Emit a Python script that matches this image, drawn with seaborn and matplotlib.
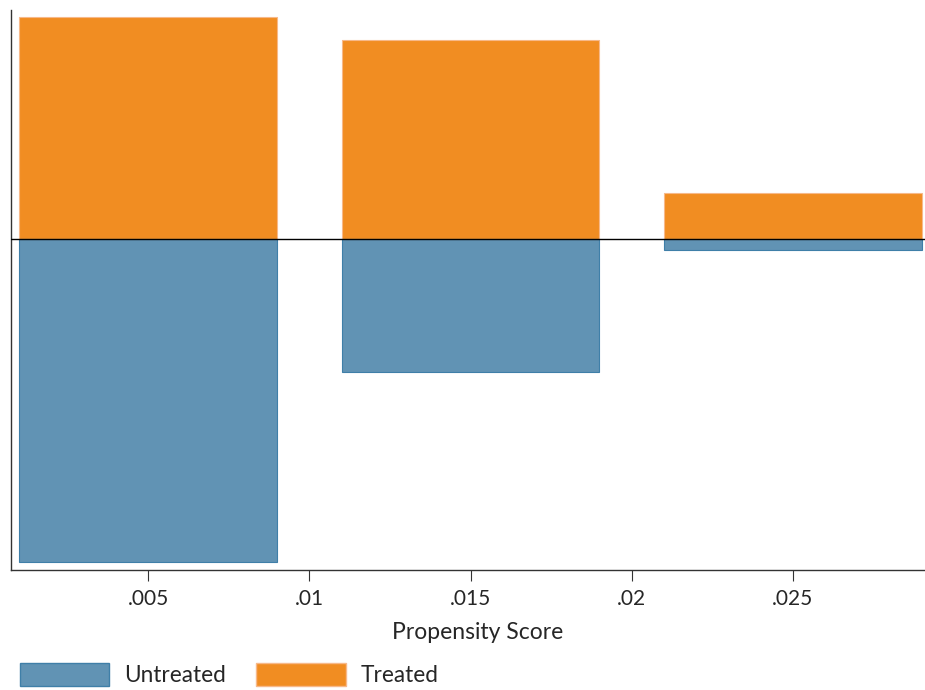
import matplotlib.pyplot as plt
import matplotlib.patches as mpatches
import seaborn as sns
import numpy as np
import pandas as pd

# bin midpoints of the propensity score and share of each group in the bin
bin_mid = [0.005, 0.015, 0.025]
treated = [0.475, 0.426, 0.099]
untreated = [0.692, 0.285, 0.024]
xticks = [0.005, 0.01, 0.015, 0.02, 0.025]
xtick_labels = ['.005', '.01', '.015', '.02', '.025']

orange = '#F18D22'
blue = '#6193B4'

sns.set_style('white')
plt.rcParams['font.family'] = ['Lato', 'DejaVu Sans']

df_t = pd.DataFrame({'score': bin_mid, 'share': treated})
df_u = pd.DataFrame({'score': bin_mid, 'share': [-v for v in untreated]})

fig = plt.figure(figsize=(9.25, 6.9), dpi=100)
ax = fig.add_axes([0.0119, 0.174, 0.9881, 0.8116])

sns.barplot(data=df_t, x='score', y='share', native_scale=True, width=0.8,
            color=orange, saturation=1, edgecolor='#F7B98A', linewidth=0.8, ax=ax)
sns.barplot(data=df_u, x='score', y='share', native_scale=True, width=0.8,
            color=blue, saturation=1, edgecolor='#3F7FA8', linewidth=0.8, ax=ax)

ax.axhline(0, color='black', linewidth=1.0, zorder=5)
ax.set_xlim(0.00074, 0.0291)
ax.set_ylim(-0.709, 0.49)
ax.set_xticks(xticks)
ax.set_xticklabels(xtick_labels)
ax.set_yticks([])
ax.set_ylabel('')
ax.set_xlabel('Propensity Score', fontsize=16.5, labelpad=9)
ax.xaxis.label.set_x(0.511)
ax.tick_params(axis='x', labelsize=15, length=8, width=0.8, color='#333333',
               direction='out', bottom=True, pad=6)

for side in ['top', 'right']:
    ax.spines[side].set_visible(False)
for side in ['left', 'bottom']:
    ax.spines[side].set_color('#333333')
    ax.spines[side].set_linewidth(1.0)

handles = [mpatches.Patch(facecolor=blue, edgecolor='#3F7FA8', label='Untreated'),
           mpatches.Patch(facecolor=orange, edgecolor='#F7B98A', label='Treated')]
fig.legend(handles=handles, loc='lower left', bbox_to_anchor=(0.0115, -0.007), ncol=2,
           frameon=False, fontsize=16.3, handlelength=3.95, handleheight=1.2,
           handletextpad=0.65, columnspacing=1.35, borderaxespad=0)

plt.savefig('out.png', dpi=100)
